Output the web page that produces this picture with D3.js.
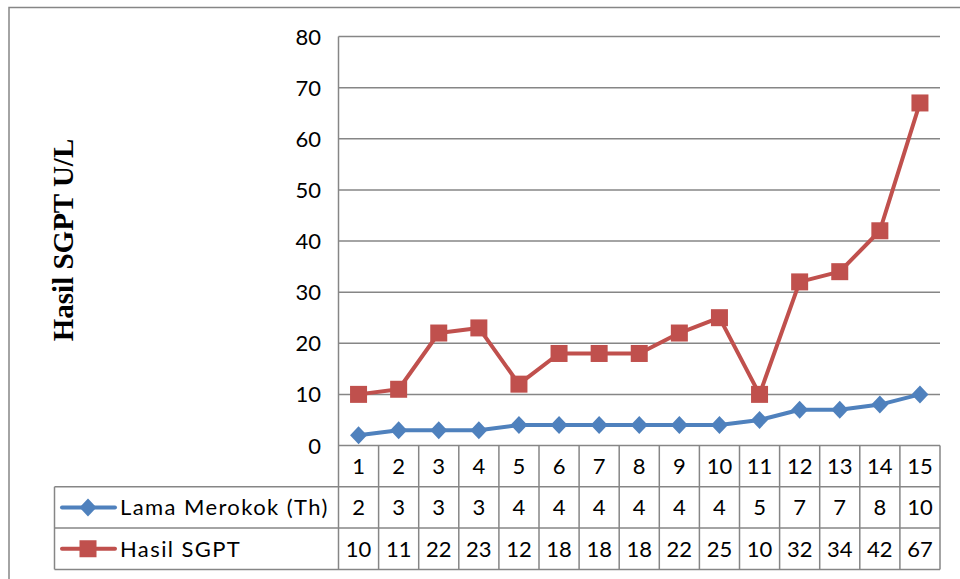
<!DOCTYPE html>
<html>
<head>
<meta charset="utf-8">
<script src="https://cdn.jsdelivr.net/npm/d3@7"></script>
<style>
  body { margin: 0; background: #fff; }
  text { font-family: Lato, "Open Sans", sans-serif; fill: #000; }
</style>
</head>
<body>
<div id="chart"></div>
<script>
// data
var categories = ["1","2","3","4","5","6","7","8","9","10","11","12","13","14","15"];
var lamaMerokok = [2,3,3,3,4,4,4,4,4,4,5,7,7,8,10];
var hasilSGPT = [10,11,22,23,12,18,18,18,22,25,10,32,34,42,67];
var yTicks = [0,10,20,30,40,50,60,70,80];
var seriesNames = ["Lama Merokok (Th)", "Hasil SGPT"];
var seriesColors = ["#4F81BD", "#C0504D"];

var svgWidth = 960;
var svgHeight = 579;

var plot = { left: 338.5, right: 940, top: 36.5, bottom: 445.5 };
var rowH = 41.3;
var legendLeft = 54.5;
var gridColor = "#868686";
var fontSize = "22px";

var svg = d3.select("#chart").append("svg")
  .attr("width", svgWidth)
  .attr("height", svgHeight);

// outer chart border
svg.append("rect")
  .attr("x", 9).attr("y", 7.5)
  .attr("width", 1000).attr("height", 700)
  .attr("fill", "none")
  .attr("stroke", gridColor)
  .attr("stroke-width", 1.5);

var x = d3.scaleBand()
  .domain(categories)
  .range([plot.left, plot.right]);

var y = d3.scaleLinear()
  .domain([0, 80])
  .range([plot.bottom, plot.top]);

// gridlines
svg.append("g").selectAll("line")
  .data(yTicks.filter(d => d > 0))
  .enter().append("line")
  .attr("x1", plot.left).attr("x2", plot.right)
  .attr("y1", d => y(d)).attr("y2", d => y(d))
  .attr("stroke", gridColor)
  .attr("stroke-width", 1.5);

// y tick labels
svg.append("g").selectAll("text")
  .data(yTicks)
  .enter().append("text")
  .attr("x", 321)
  .attr("y", d => y(d) + 8)
  .attr("text-anchor", "end")
  .style("font-size", fontSize)
  .text(d => d);

// y axis title
svg.append("text")
  .attr("transform", "translate(73, 240) rotate(-90)")
  .attr("text-anchor", "middle")
  .style("font-family", "'Liberation Serif', 'DejaVu Serif', serif")
  .style("font-weight", "bold")
  .style("font-size", "29px")
  .text("Hasil SGPT U/L");

// data table
var table = svg.append("g")
  .attr("stroke", gridColor)
  .attr("stroke-width", 1.5);

var tBottom = plot.bottom + rowH * 3;
// horizontal lines
table.append("line")
  .attr("x1", plot.left).attr("x2", plot.right)
  .attr("y1", plot.bottom).attr("y2", plot.bottom);
[1, 2, 3].forEach(function(i) {
  table.append("line")
    .attr("x1", legendLeft).attr("x2", plot.right)
    .attr("y1", plot.bottom + rowH * i).attr("y2", plot.bottom + rowH * i);
});
// vertical lines
table.append("line")
  .attr("x1", plot.left).attr("x2", plot.left)
  .attr("y1", plot.top).attr("y2", tBottom);
table.append("line")
  .attr("x1", legendLeft).attr("x2", legendLeft)
  .attr("y1", plot.bottom + rowH).attr("y2", tBottom);
table.selectAll(".vcol")
  .data(categories)
  .enter().append("line")
  .attr("class", "vcol")
  .attr("x1", d => x(d) + x.bandwidth())
  .attr("x2", d => x(d) + x.bandwidth())
  .attr("y1", plot.bottom).attr("y2", tBottom);

// table text
var rows = [categories, lamaMerokok, hasilSGPT];
rows.forEach(function(vals, r) {
  svg.append("g").selectAll("text")
    .data(vals)
    .enter().append("text")
    .attr("x", (d, i) => x(categories[i]) + x.bandwidth() / 2)
    .attr("y", plot.bottom + rowH * r + rowH / 2 + 8)
    .attr("text-anchor", "middle")
    .style("font-size", fontSize)
    .text(d => d);
});

// lines and markers
var line = d3.line()
  .x((d, i) => x(categories[i]) + x.bandwidth() / 2)
  .y(d => y(d));

var diamond = function(cx, cy) {
  return `M${cx},${cy - 9}L${cx + 8.5},${cy}L${cx},${cy + 9}L${cx - 8.5},${cy}Z`;
};

[lamaMerokok, hasilSGPT].forEach(function(vals, s) {
  svg.append("path")
    .datum(vals)
    .attr("d", line)
    .attr("fill", "none")
    .attr("stroke", seriesColors[s])
    .attr("stroke-width", 4)
    .attr("stroke-linejoin", "round");
});

svg.append("g").selectAll("path")
  .data(lamaMerokok)
  .enter().append("path")
  .attr("d", (d, i) => diamond(x(categories[i]) + x.bandwidth() / 2, y(d)))
  .attr("fill", seriesColors[0]);

svg.append("g").selectAll("rect")
  .data(hasilSGPT)
  .enter().append("rect")
  .attr("x", (d, i) => x(categories[i]) + x.bandwidth() / 2 - 8.5)
  .attr("y", d => y(d) - 8.5)
  .attr("width", 17).attr("height", 17)
  .attr("fill", seriesColors[1]);

// legend in table
seriesNames.forEach(function(name, s) {
  var cy = plot.bottom + rowH * (s + 1) + rowH / 2;
  svg.append("line")
    .attr("x1", 62).attr("x2", 115)
    .attr("y1", cy).attr("y2", cy)
    .attr("stroke", seriesColors[s])
    .attr("stroke-width", 4)
    .attr("stroke-linecap", "round");
  if (s === 0) {
    svg.append("path").attr("d", diamond(88, cy)).attr("fill", seriesColors[s]);
  } else {
    svg.append("rect")
      .attr("x", 88 - 8.5).attr("y", cy - 8.5)
      .attr("width", 17).attr("height", 17)
      .attr("fill", seriesColors[s]);
  }
  svg.append("text")
    .attr("x", 120)
    .attr("y", cy + 8)
    .style("font-size", fontSize)
    .style("letter-spacing", "1.4px")
    .text(name);
});
</script>
</body>
</html>
